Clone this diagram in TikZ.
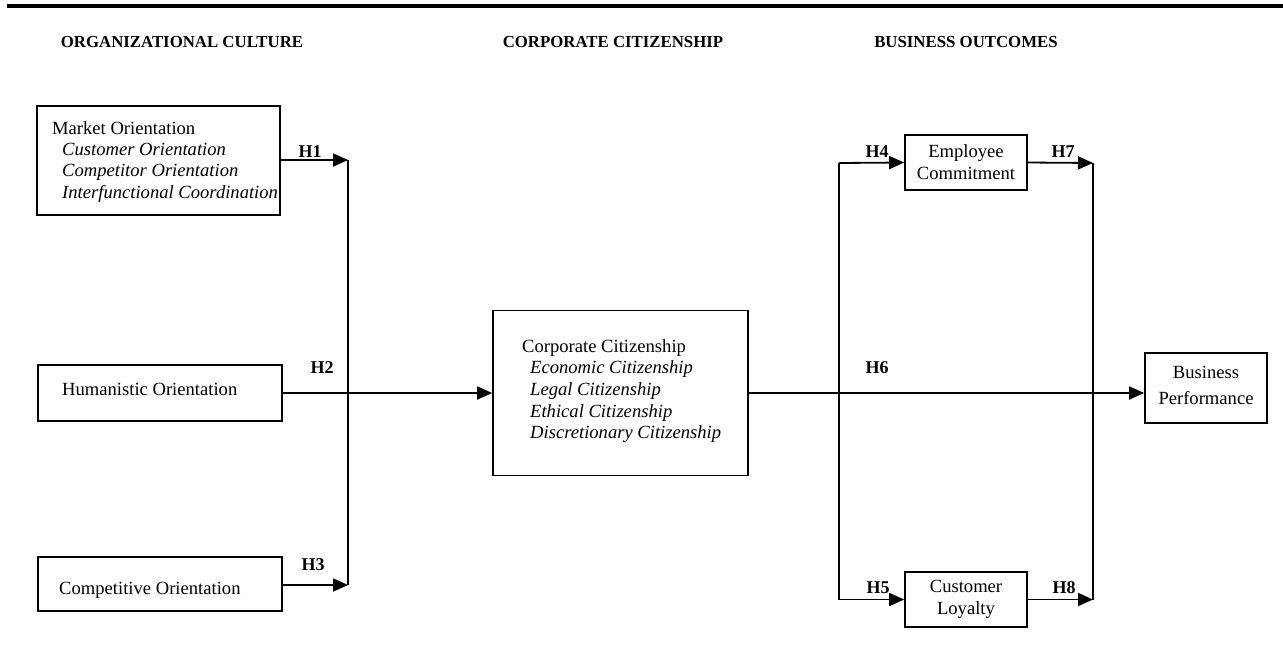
\documentclass[tikz,border=0pt]{standalone}
\usepackage{fontspec}
\setmainfont{Liberation Serif}
\usetikzlibrary{arrows.meta}
\begin{document}
\begin{tikzpicture}[x=1pt,y=-1pt,
  box/.style={draw, line width=1.7pt, inner sep=0pt},
  lbl/.style={font=\fontsize{18}{20}\selectfont\bfseries, inner sep=0pt, anchor=base},
  hdr/.style={font=\fontsize{16.8}{18}\selectfont\bfseries, inner sep=0pt, anchor=base},
  txt/.style={font=\fontsize{18.6}{21.4}\selectfont, inner sep=0pt, align=left},
  ctxt/.style={font=\fontsize{18.6}{22}\selectfont, inner sep=0pt, align=center},
  conn/.style={line width=1.8pt},
  arr/.style={conn, -{Triangle[length=15pt,width=13pt]}}]
\useasboundingbox (0,0) rectangle (1283,665);
\draw[line width=3.5pt] (7,6) -- (1283,6);

% headers
\node[hdr] (h1) at (182,47) {ORGANIZATIONAL CULTURE};
\node[hdr] (h2) at (613,47) {CORPORATE CITIZENSHIP};
\node[hdr] (h3) at (966,47) {BUSINESS OUTCOMES};

% left boxes
\node[box, minimum width=243pt, minimum height=109pt] (mo) at (158.5,160.5) {};
\node[txt, anchor=north west] (mot) at (52,121) {Market Orientation\\
\hspace*{10pt}\textit{Customer Orientation}\\
\hspace*{10pt}\textit{Competitor Orientation}\\
\hspace*{10pt}\textit{Interfunctional Coordination}};

\node[box, minimum width=244pt, minimum height=56pt] (ho) at (160,393) {};
\node[txt, anchor=base west] (hot) at (62,395) {Humanistic Orientation};

\node[box, minimum width=244pt, minimum height=54pt] (co) at (160,584) {};
\node[txt, anchor=base west] (cot) at (59,594) {Competitive Orientation};

% corporate citizenship
\node[box, minimum width=255pt, minimum height=165pt] (cc) at (620.5,393) {};
\node[txt, font=\fontsize{18.6}{21.7}\selectfont, anchor=north west] (cct) at (522,339) {Corporate Citizenship\\
\hspace*{8pt}\textit{Economic Citizenship}\\
\hspace*{8pt}\textit{Legal Citizenship}\\
\hspace*{8pt}\textit{Ethical Citizenship}\\
\hspace*{8pt}\textit{Discretionary Citizenship}};

% outcomes
\node[box, minimum width=122pt, minimum height=55pt, ctxt] (ec) at (966,162.5) {Employee\\Commitment};
\node[box, minimum width=122pt, minimum height=55pt, ctxt] (cl) at (966,599.5) {Customer\\Loyalty};
\node[box, minimum width=122pt, minimum height=70pt] (bp) at (1206,388) {};
\node[ctxt, font=\fontsize{18.6}{26}\selectfont] (bpt) at (1206,385) {Business\\Performance};

% junctions
\coordinate (j1) at (348,160);
\coordinate (j3) at (348,585);
\coordinate (k1) at (839,163);
\coordinate (k2) at (839,599.5);
\coordinate (m1) at (1093,163);
\coordinate (m2) at (1093,599.5);

% connectors
\draw[arr] (mo.east |- j1) -- (j1);
\draw[arr] (co.east |- j3) -- (j3);
\draw[conn] (j1) -- (j3);
\draw[arr] (ho.east) -- (cc.west);

\draw[arr] (cc.east) -- (cc.east -| bp.west);
\draw[conn] (k1) -- (k2);
\draw[arr] (k1) -- (ec.west);
\draw[arr] (k2) -- (cl.west);
\draw[arr] (ec.east) -- (m1);
\draw[arr] (cl.east) -- (m2);
\draw[conn] (m1) -- (m2);

% labels
\node[lbl] (l1) at (310,157) {H1};
\node[lbl] (l2) at (322,373) {H2};
\node[lbl] (l3) at (313,570) {H3};
\node[lbl] (l4) at (877,157) {H4};
\node[lbl] (l7) at (1063,157) {H7};
\node[lbl] (l5) at (878,593) {H5};
\node[lbl] (l8) at (1064,593) {H8};
\node[lbl] (l6) at (877,373) {H6};
\end{tikzpicture}
\end{document}
